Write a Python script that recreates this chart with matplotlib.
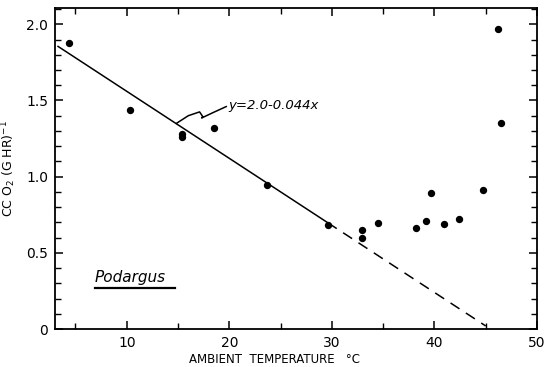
import matplotlib
matplotlib.use("Agg")
import matplotlib.pyplot as plt
import numpy as np
from matplotlib.ticker import MultipleLocator

# Data
temp = [4.4, 10.3, 15.4, 15.4, 18.5, 23.7, 29.6, 32.9, 32.9, 34.5,
        38.2, 39.2, 39.7, 40.9, 42.4, 44.7, 46.2, 46.5]
vo2 = [1.88, 1.44, 1.28, 1.26, 1.32, 0.945, 0.685, 0.648, 0.60, 0.695,
       0.66, 0.707, 0.89, 0.69, 0.72, 0.91, 1.97, 1.35]

intercept = 2.0
slope = -0.044
solid_range = [3.3, 29.6]
dashed_range = [29.6, 45.0]

x_ticks = [10, 20, 30, 40, 50]
x_tick_labels = ["10", "20", "30", "40", "50"]
y_ticks = [0, 0.5, 1.0, 1.5, 2.0]
y_tick_labels = ["0", "0.5", "1.0", "1.5", "2.0"]

plt.rcParams['font.family'] = ['DejaVu Sans']

fig = plt.figure(figsize=(5.47, 3.67), dpi=100)
ax = fig.add_axes([0.1005, 0.1035, 0.8812, 0.876])

ax.scatter(temp, vo2, s=28, color='black', zorder=3, linewidths=0)

xs = np.array(solid_range)
ax.plot(xs, intercept + slope * xs, color='black', lw=1.1)
xd = np.array(dashed_range)
ax.plot(xd, intercept + slope * xd, color='black', lw=1.1, linestyle=(0, (7, 5)))

# squiggle arrow to equation
sq_x = [14.85, 16.0, 17.1, 17.4, 17.3, 18.4, 19.7]
sq_y = [1.35, 1.40, 1.425, 1.395, 1.385, 1.42, 1.46]
ax.plot(sq_x, sq_y, color='black', lw=1.1)
ax.text(19.9, 1.465, "y=2.0-0.044x", fontsize=9.5, style='italic',
        va='center', ha='left')

# Podargus label with underline
ax.text(6.9, 0.34, "Podargus", fontsize=11, style='italic', va='center', ha='left')
ax.plot([6.9, 14.7], [0.268, 0.268], color='black', lw=1.6)

ax.set_xlim(3, 50)
ax.set_ylim(0, 2.11)
ax.set_xticks(x_ticks)
ax.set_xticklabels(x_tick_labels)
ax.set_yticks(y_ticks)
ax.set_yticklabels(y_tick_labels)
ax.xaxis.set_minor_locator(MultipleLocator(5))
ax.yaxis.set_minor_locator(MultipleLocator(0.1))
ax.tick_params(which='both', direction='in', top=True, right=True, labelsize=10)
ax.tick_params(which='major', length=6, width=1.1, pad=5)
ax.tick_params(which='minor', length=4, width=1.0)
for s in ax.spines.values():
    s.set_linewidth(1.3)

ax.set_xlabel("AMBIENT  TEMPERATURE   °C", fontsize=8.5)
ax.xaxis.set_label_coords(0.456, -0.075)
ax.set_ylabel("CC O$_2$ (G HR)$^{-1}$", fontsize=9, labelpad=6)

fig.savefig("out.png", dpi=100)
